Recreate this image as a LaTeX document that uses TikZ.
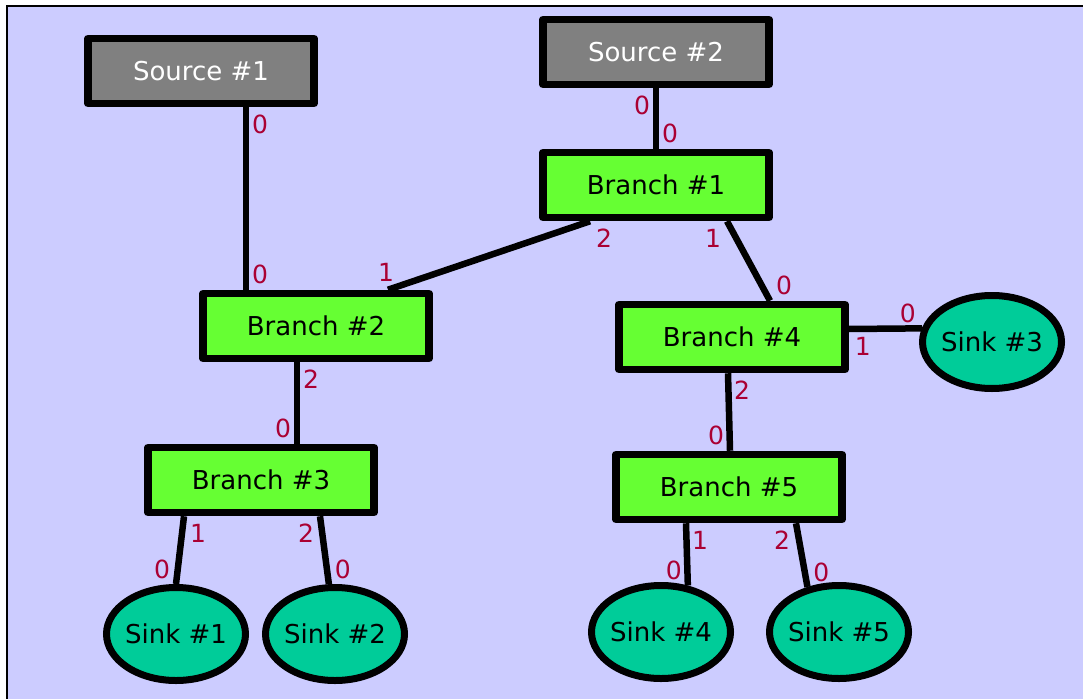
\documentclass[tikz,border=0pt]{standalone}
\usepackage{fontspec}
\setmainfont{DejaVu Sans}
\usetikzlibrary{shapes.geometric}
\definecolor{bgblue}{HTML}{CCCCFF}
\definecolor{srcgray}{HTML}{808080}
\definecolor{brgreen}{HTML}{66FF33}
\definecolor{sinkteal}{HTML}{00CC99}
\definecolor{portred}{HTML}{AA0033}

\begin{document}
\begin{tikzpicture}[x=1pt, y=-1pt,
  src/.style={draw, line width=7.5pt, line join=round, fill=srcgray, text=white,
              font=\fontsize{26}{31}\selectfont, minimum width=226pt, minimum height=65pt, inner sep=0pt},
  br/.style={src, fill=brgreen, text=black},
  sink/.style={ellipse, draw, line width=7pt, fill=sinkteal, font=\fontsize{26}{31}\selectfont,
               minimum width=139pt, minimum height=93pt, inner xsep=-14pt, inner ysep=0pt},
  wire/.style={line width=6.5pt},
  lbl/.style={text=portred, font=\fontsize{25}{30}\selectfont, inner sep=0pt},
  dr/.style={lbl, xshift=14pt, yshift=-17pt},
  dl/.style={lbl, xshift=-14pt, yshift=-17pt},
  ur/.style={lbl, xshift=14pt, yshift=15pt},
  ul/.style={lbl, xshift=-14pt, yshift=15pt},
]
\useasboundingbox (0,0) rectangle (1083,698);
\clip (0,0) rectangle (1083,698);
\fill[white] (0,0) rectangle (1083,698);
\draw[fill=bgblue, line width=2pt] (7,6) rectangle (1100,720);

\node[src] (src1) at (201,71) {Source \#1};
\node[src] (src2) at (656,52) {Source \#2};
\node[br] (b1) at (656,185) {Branch \#1};
\node[br] (b2) at (316,326) {Branch \#2};
\node[br] (b3) at (261,480) {Branch \#3};
\node[br] (b4) at (732,337) {Branch \#4};
\node[br] (b5) at (729,487) {Branch \#5};
\node[sink] (s1) at (176,634) {Sink \#1};
\node[sink] (s2) at (335,634) {Sink \#2};
\node[sink] (s3) at (992,342) {Sink \#3};
\node[sink] (s4) at (661,632) {Sink \#4};
\node[sink] (s5) at (839,632) {Sink \#5};

\draw[wire] ([xshift=45pt]src1.south) -- node[dr, at start]{0} node[ur, at end]{0} ([xshift=-70pt]b2.north);
\draw[wire] (src2.south) -- node[dl, at start]{0} node[ur, at end]{0} (b1.north);
\draw[wire] ([xshift=-66pt]b1.south) -- node[dr, at start]{2} node[lbl, at end, xshift=-2pt, yshift=17pt]{1} ([xshift=72pt]b2.north);
\draw[wire] ([xshift=71pt]b1.south) -- node[dl, at start]{1} node[ur, at end]{0} ([xshift=38pt]b4.north);
\draw[wire] ([yshift=8pt]b4.east) -- node[dr, at start]{1} node[ul, at end]{0} (s3.169);
\draw[wire] ([xshift=-19pt]b2.south) -- node[dr, at start]{2} node[ul, at end]{0} ([xshift=-19pt]b3.north -| b2.south);
\draw[wire] ([xshift=-4pt]b4.south) -- node[dr, at start]{2} node[ul, at end]{0} ([xshift=1pt]b5.north);
\draw[wire] ([xshift=-77pt]b3.south) -- node[dr, at start]{1} node[ul, at end]{0} (s1.north);
\draw[wire] ([xshift=59pt]b3.south) -- node[dl, at start]{2} node[ur, at end]{0} (s2.97);
\draw[wire] ([xshift=-43pt]b5.south) -- node[dr, at start]{1} node[ul, at end]{0} (s4.60);
\draw[wire] ([xshift=67pt]b5.south) -- node[dl, at start]{2} node[ur, at end]{0} (s5.125);
\end{tikzpicture}
\end{document}
